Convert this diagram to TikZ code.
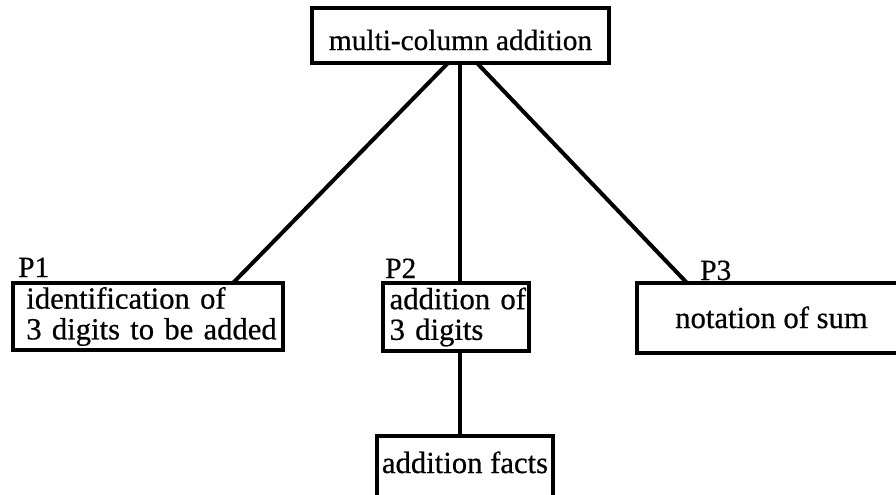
\documentclass[tikz,border=0pt]{standalone}
\usepackage{fontspec}
\setmainfont{Liberation Serif}[FakeBold=0.6]
\usetikzlibrary{calc}
\begin{document}
\begin{tikzpicture}[x=0.75pt,y=-0.75pt,
  box/.style={draw,line width=2.4pt,rectangle,inner sep=0pt,outer sep=0pt,
    font=\fontsize{23}{23}\selectfont},
  link/.style={line width=3pt},
  plabel/.style={inner sep=0pt,anchor=base west,font=\fontsize{22}{24}\selectfont}]
\clip (0,0) rectangle (896,494);
\node[box,anchor=north,minimum width=222.75pt,text height=31.5pt,text depth=9.75pt,font=\fontsize{22}{23}\selectfont] (top) at (460.5,8) {multi-column addition};
\node[box,anchor=north west,text width=202.5pt,align=left,minimum height=50.25pt] (p1) at (13,283) {\hspace*{10pt}\mbox{identification of}\\\hspace*{10pt}\mbox{3 digits to be added}};
\node[box,anchor=north west,text width=109.5pt,align=left,minimum height=51pt] (p2) at (383,283) {\hspace*{5pt}\mbox{addition of}\\\hspace*{5pt}\mbox{3 digits}};
\node[box,anchor=north west,minimum width=201.75pt,text height=33.75pt,text depth=18.75pt] (p3) at (637,283) {notation of sum};
\node[box,anchor=north,minimum width=132pt,text height=27.75pt,text depth=30pt] (facts) at (465,436) {addition facts};
\node[plabel] (l1) at (18,277) {P1};
\node[plabel] (l2) at (385,278) {P2};
\node[plabel] (l3) at (700,280) {P3};
\draw[link] ($(top.south)+(-12.5,0)$) -- ($(p1.north west)+(220,0)$);
\draw[link] ($(top.south)+(-0.5,0)$) -- ($(p2.north west)+(77,0)$);
\draw[link] ($(top.south)+(16.5,0)$) -- ($(p3.north west)+(50,0)$);
\draw[link] ($(p2.south west)+(77,0)$) -- ($(facts.north)+(-5,0)$);
\end{tikzpicture}
\end{document}
